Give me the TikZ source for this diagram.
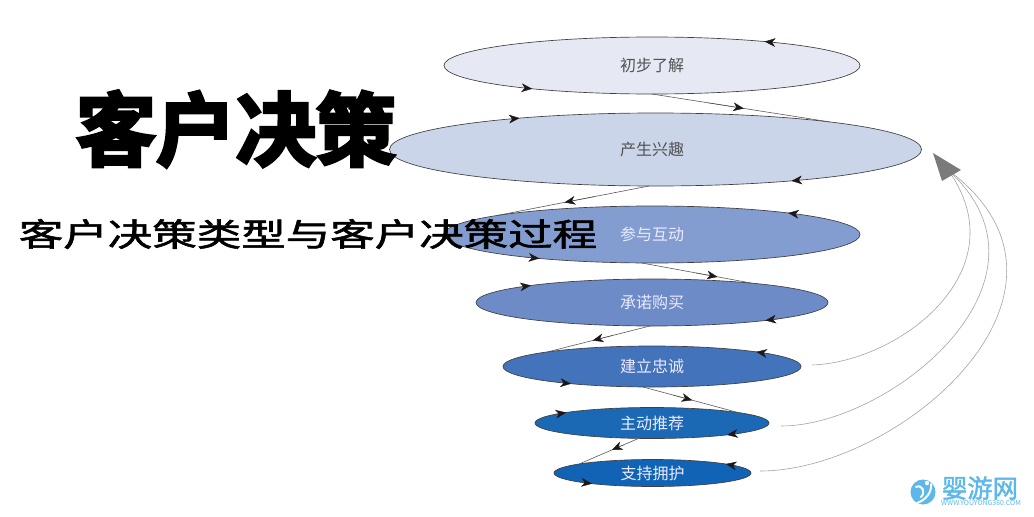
\documentclass[tikz,border=0pt]{standalone}
\usepackage{fontspec}
\usetikzlibrary{shapes.geometric,arrows.meta,calc}
\newfontfamily\cjk{Noto Sans CJK SC}
\newfontfamily\cjkheavy[FakeBold=4]{Noto Sans CJK SC Bold}[BoldFont={}]
\newfontfamily\cjkbold[FakeBold=1.6]{Noto Sans CJK SC}
\definecolor{c1}{HTML}{E6E9F4}
\definecolor{c2}{HTML}{CBD5EA}
\definecolor{c3}{HTML}{839DD0}
\definecolor{c4}{HTML}{6C8BC7}
\definecolor{c5}{HTML}{4373BA}
\definecolor{c6}{HTML}{1B68B5}
\definecolor{c7}{HTML}{1063B5}
\definecolor{headc}{HTML}{1E1717}
\definecolor{logoc}{HTML}{5CB8EA}
\tikzset{
  disc/.style n args={3}{ellipse,draw=black!75,line width=.5pt,fill=#1,minimum width=#2*.75pt,minimum height=#3*.75pt,inner sep=0pt,outer sep=0pt},
  darklabel/.style={text=black!68,font=\cjk\fontsize{12}{14}\selectfont},
  lightlabel/.style={text=white!92!blue,font=\cjk\fontsize{12}{14}\selectfont},
  headtip/.style={-{Stealth[length=8pt,width=6.5pt,inset=2.4pt,color=headc]},line width=.3pt,draw=black!70},
  link/.style={draw=black!65,line width=.45pt},
  returnline/.style={draw=black!36,line width=.45pt},
}
\newcommand{\ehead}[6]{%
  \pgfmathsetmacro{\angA}{atan2(#3*#4*sin(acos(#5/#2)),#5)}%
  \pgfmathsetmacro{\angB}{atan2(#3*#4*sin(acos(#6/#2)),#6)}%
  \draw[headtip] (#1.\angA) -- (#1.\angB);}
\newcommand{\linkto}[3]{%
  \draw[link] (#1) -- (#2);
  \pgfmathsetmacro{\tailf}{#3-.2}%
  \draw[headtip] ($(#1)!\tailf!(#2)$) -- ($(#1)!#3!(#2)$);}
\begin{document}
\begin{tikzpicture}[x=.75pt,y=-.75pt]
\useasboundingbox (0,0) rectangle (1034,517);
\node[disc={c1}{416}{57},darklabel] (e1) at (652,65.5) {初步了解};
\node[disc={c2}{532}{73},darklabel] (e2) at (655.5,149.5) {产生兴趣\kern5.2pt\relax};
\node[disc={c3}{416}{57},lightlabel] (e3) at (652,234.5) {\raisebox{-.7pt}{参与互动}};
\node[disc={c4}{352}{47},lightlabel] (e4) at (652,302.5) {承诺购买};
\node[disc={c5}{298}{41},lightlabel] (e5) at (652,366.5) {建立忠诚};
\node[disc={c6}{234}{31},lightlabel] (e6) at (652,423) {主动推荐};
\node[disc={c7}{197}{27},lightlabel] (e7) at (652.5,473) {支持拥护};

\linkto{e1.270}{e2.9.4}{.517}
\linkto{e2.260.7}{e3.173.7}{.556}
\linkto{e3.250.7}{e4.11.2}{.69}
\linkto{e4.265}{e5.172.3}{.56}
\linkto{e5.246}{e6.7.6}{.52}
\linkto{e6.229}{e7.173.9}{.45}

\ehead{e1}{208}{28.5}{1}{119}{107}
\ehead{e1}{208}{28.5}{-1}{-133}{-121}
\ehead{e2}{266}{36.5}{1}{-150}{-138}
\ehead{e2}{266}{36.5}{-1}{142}{131}
\ehead{e3}{208}{28.5}{1}{144}{132}
\ehead{e3}{208}{28.5}{-1}{-128}{-116}
\ehead{e4}{176}{23.5}{1}{-136}{-124}
\ehead{e4}{176}{23.5}{-1}{124}{112}
\ehead{e5}{149}{20.5}{1}{116}{104}
\ehead{e5}{149}{20.5}{-1}{-95}{-83}
\ehead{e6}{117}{15.5}{1}{-103}{-91}
\ehead{e6}{117}{15.5}{-1}{87}{75}
\ehead{e7}{98.5}{13.5}{1}{80}{69}
\ehead{e7}{98.5}{13.5}{-1}{-72}{-61}

\coordinate (apex) at (948,170);
\coordinate (r5) at (812,365);
\coordinate (r6) at (781,426);
\coordinate (r7) at (760,471);
\draw[returnline] (r5) .. controls (900,362) and (1020,270) .. (apex);
\draw[returnline] (r6) .. controls (890,426) and (1070,280) .. (apex);
\draw[returnline] (r7) .. controls (900,471) and (1110,290) .. (apex);
\fill[black!52] (933,153) -- (961,170) -- (942,181) -- cycle;

\node[inner sep=0pt,font=\cjkheavy\fontsize{60}{60}\selectfont,text=black] (title) at (236,129) {客户决策};
\node[inner sep=0pt,font=\cjkbold\fontsize{24}{24}\selectfont,text=black,xscale=1.39] (subtitle) at (308,234) {客户决策类型与客户决策过程};

% watermark
\fill[logoc] (923,492) circle (12.5);
\draw[white,line width=1.5pt,line cap=round] (916,487) .. controls (922,484) and (926,492) .. (921,497);
\draw[white,line width=1.5pt,line cap=round] (931,484) .. controls (932,492) and (926,500) .. (917,503);
\fill[white] (927,483) circle (2.2);
\node[inner sep=0pt,text=logoc,font=\cjkbold\fontsize{19}{19}\selectfont] (brand) at (980,488) {婴游网};
\node[inner sep=0pt,text=logoc,font=\cjk\fontsize{5.2}{6}\selectfont] (site) at (981,503) {WWW.YOUYONG360.COM};
\end{tikzpicture}
\end{document}
